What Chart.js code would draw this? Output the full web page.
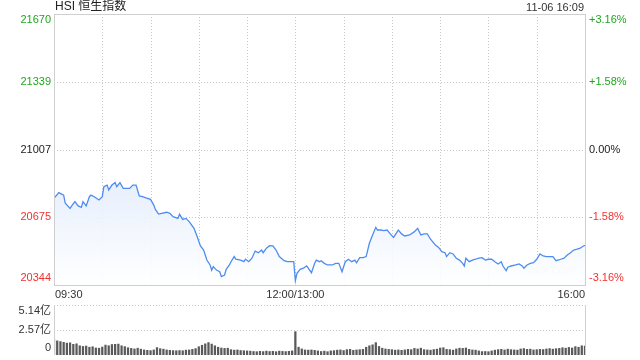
<!DOCTYPE html>
<html>
<head>
<meta charset="utf-8">
<script src="https://cdn.jsdelivr.net/npm/chart.js@4/dist/chart.umd.min.js"></script>
<style>
html,body{margin:0;padding:0;background:#fff;width:640px;height:360px;overflow:hidden;}
#main{position:absolute;left:0;top:0;}
#vol{position:absolute;left:0;top:300px;}
</style>
</head>
<body>
<canvas id="main" width="640" height="300"></canvas>
<canvas id="vol" width="640" height="60"></canvas>
<script>
// ---------- data ----------
const titleText = 'HSI 恒生指数';
const dateText = '11-06 16:09';
const prevClose = 21007;
// minute index from 09:30 (lunch break removed, 0..330)
const minutes = [0,3,6,7,10,11,13,15,17,18,20,22,23,25,28,30,31,33,34,36,38,39,41,43,45,47,49,51,53,55,58,60,62,63,65,67,70,72,74,77,78,80,82,84,87,89,91,93,95,97,98,99,101,103,104,106,107,109,110,112,113,116,118,119,121,123,125,127,129,130,132,134,136,138,140,143,145,147,149,150,151,153,155,157,158,160,162,163,165,166,168,170,173,175,177,179,181,183,185,187,188,190,192,194,196,198,200,201,203,205,207,209,211,214,216,218,221,224,226,228,230,232,234,237,239,241,243,244,246,248,250,252,254,255,256,258,260,262,264,266,268,270,272,274,276,278,279,281,282,284,287,289,291,292,294,296,298,300,302,304,306,308,310,312,315,317,319,321,323,325,327,329,330];
const prices = [20768,20796,20784,20744,20719,20731,20752,20731,20724,20752,20731,20776,20784,20776,20760,20776,20825,20833,20809,20833,20845,20825,20845,20817,20817,20817,20833,20833,20780,20776,20768,20763,20735,20714,20691,20695,20700,20695,20678,20670,20690,20665,20670,20654,20621,20580,20535,20515,20466,20442,20417,20434,20417,20409,20385,20393,20421,20442,20458,20483,20470,20466,20458,20470,20458,20475,20510,20502,20515,20502,20524,20536,20535,20515,20483,20463,20458,20458,20458,20365,20401,20421,20426,20437,20426,20404,20450,20466,20458,20463,20450,20442,20442,20450,20450,20409,20458,20470,20458,20466,20453,20478,20478,20483,20548,20589,20626,20613,20613,20610,20613,20594,20577,20613,20594,20584,20589,20605,20621,20589,20594,20594,20568,20540,20528,20507,20502,20483,20502,20496,20475,20466,20450,20437,20475,20458,20466,20470,20475,20478,20466,20470,20470,20458,20447,20458,20437,20414,20431,20437,20442,20447,20437,20426,20442,20450,20453,20470,20496,20486,20483,20483,20483,20463,20470,20475,20491,20502,20515,20519,20524,20535,20538];
// volume (亿), one bar every 2 minutes
const volumes = [1.62,1.45,1.38,1.30,1.22,1.25,1.10,1.15,0.95,0.88,0.92,0.80,0.85,0.72,0.70,0.82,1.02,0.95,1.08,1.10,1.12,0.95,0.86,0.75,0.68,0.62,0.70,0.60,0.52,0.48,0.45,0.52,0.76,0.65,0.60,0.52,0.48,0.45,0.44,0.46,0.44,0.50,0.52,0.58,0.66,0.85,1.00,1.15,1.28,1.12,0.95,0.80,0.72,0.68,0.70,0.55,0.50,0.52,0.46,0.44,0.42,0.40,0.36,0.34,0.38,0.35,0.40,0.36,0.38,0.34,0.40,0.37,0.35,0.38,0.42,2.40,0.80,0.62,0.52,0.50,0.52,0.48,0.42,0.36,0.40,0.34,0.42,0.45,0.50,0.52,0.46,0.55,0.58,0.48,0.52,0.55,0.58,0.80,0.95,1.05,1.27,0.88,0.70,0.62,0.58,0.55,0.50,0.52,0.48,0.52,0.58,0.55,0.68,0.62,0.70,0.55,0.52,0.50,0.56,0.60,0.72,0.75,0.58,0.55,0.50,0.62,0.70,0.68,0.72,0.58,0.52,0.50,0.42,0.35,0.36,0.34,0.42,0.50,0.55,0.58,0.52,0.60,0.55,0.52,0.50,0.62,0.66,0.58,0.60,0.52,0.55,0.58,0.56,0.62,0.66,0.60,0.65,0.68,0.75,0.70,0.78,0.72,0.86,0.80,0.95,0.92];
const volStep = 2;
const yTickValues = [21670,21339,21007,20675,20344];
const yLeftLabels = ['21670','21339','21007','20675','20344'];
const yRightLabels = ['+3.16%','+1.58%','0.00%','-1.58%','-3.16%'];
const xGridMinutes = [30,60,90,120,150,180,210,240,270,300];
const xLabelMinutes = [0,150,330];
const xLabels = ['09:30','12:00/13:00','16:00'];
const volTickValues = [5.14,2.57,0];
const volLabels = ['5.14亿','2.57亿','0'];

if (minutes.length !== prices.length) console.error('length mismatch', minutes.length, prices.length);

const GREEN = '#1ea81e', RED = '#f23030', DARK = '#222', GRID = '#c8c8c8', BORDER = '#cfcfcf';
const FONT = '"Liberation Sans", Arial, "Noto Sans CJK SC", sans-serif';
function colorFor(v){ return v > prevClose ? GREEN : (v < prevClose ? RED : DARK); }

function dotted(ctx, x1, y1, x2, y2){
  ctx.save(); ctx.strokeStyle = GRID; ctx.lineWidth = 1; ctx.setLineDash([1,2]);
  ctx.beginPath(); ctx.moveTo(x1, y1); ctx.lineTo(x2, y2); ctx.stroke(); ctx.restore();
}

const mainPlugin = {
  id: 'mainDeco',
  beforeDatasetsDraw(chart){
    const {ctx, chartArea:a, scales:{x, y}} = chart;
    yTickValues.forEach(v => { const py = Math.round(y.getPixelForValue(v)) + 0.5; if (py > a.top + 1 && py < a.bottom - 1) dotted(ctx, a.left, py, a.right, py); });
    xGridMinutes.forEach(m => { const px = Math.round(x.getPixelForValue(m)) + 0.5; dotted(ctx, px, a.top, px, a.bottom); });
    ctx.save();
    ctx.font = '13px ' + FONT; ctx.fillStyle = '#dcdcdc'; ctx.textAlign = 'right'; ctx.textBaseline = 'middle';
    ctx.fillText('sina.com', a.right - 9, a.bottom - 15);
    ctx.restore();
  },
  afterDatasetsDraw(chart){
    const {ctx, chartArea:a, scales:{x, y}} = chart;
    ctx.save();
    ctx.strokeStyle = BORDER; ctx.lineWidth = 1;
    ctx.strokeRect(Math.round(a.left) + 0.5, Math.round(a.top) + 0.5, Math.round(a.right - a.left), Math.round(a.bottom - a.top));
    ctx.font = '11px ' + FONT; ctx.textBaseline = 'middle';
    yTickValues.forEach((v, k) => {
      let py = y.getPixelForValue(v);
      if (k === 0) py += 6; else if (k === yTickValues.length - 1) py -= 7;
      ctx.fillStyle = colorFor(v);
      ctx.textAlign = 'right'; ctx.fillText(yLeftLabels[k], a.left - 3, py);
      ctx.textAlign = 'left'; ctx.fillText(yRightLabels[k], a.right + 4, py);
    });
    ctx.fillStyle = '#333';
    xLabelMinutes.forEach((m, k) => {
      const px = x.getPixelForValue(m);
      ctx.textAlign = k === 0 ? 'left' : (k === xLabelMinutes.length - 1 ? 'right' : 'center');
      ctx.fillText(xLabels[k], k === 0 ? px + 1 : px, a.bottom + 10);
    });
    ctx.font = '12px ' + FONT; ctx.fillStyle = '#222'; ctx.textAlign = 'left';
    ctx.fillText(titleText, a.left + 1, 7);
    ctx.font = '11px ' + FONT; ctx.fillStyle = '#333'; ctx.textAlign = 'right';
    ctx.fillText(dateText, a.right - 1, 8);
    ctx.restore();
  }
};

new Chart(document.getElementById('main'), {
  type: 'line',
  data: { datasets: [{
    data: minutes.map((m, k) => ({x: m, y: prices[k]})),
    borderColor: '#4e8def', borderWidth: 1.3, pointRadius: 0, tension: 0,
    fill: 'start',
    backgroundColor(context){
      const a = context.chart.chartArea; if (!a) return 'rgba(230,238,252,0.6)';
      const g = context.chart.ctx.createLinearGradient(0, a.top + 160, 0, a.bottom);
      g.addColorStop(0, 'rgba(226,236,252,0.9)'); g.addColorStop(1, 'rgba(255,255,255,0.9)');
      return g;
    }
  }]},
  options: {
    responsive: false, animation: false, devicePixelRatio: 1,
    layout: { padding: { left: 54, right: 55, top: 14, bottom: 15 } },
    plugins: { legend: { display: false }, tooltip: { enabled: false } },
    scales: {
      x: { type: 'linear', min: 0, max: 330, display: false },
      y: { type: 'linear', min: 20344, max: 21670, display: false }
    }
  },
  plugins: [mainPlugin]
});

const volPlugin = {
  id: 'volDeco',
  beforeDatasetsDraw(chart){
    const {ctx, chartArea:a, scales:{y}} = chart;
    volTickValues.forEach(v => { const py = Math.round(y.getPixelForValue(v)) + 0.5; if (py < a.bottom - 1) dotted(ctx, a.left, py, a.right, py); });
  },
  afterDatasetsDraw(chart){
    const {ctx, chartArea:a, scales:{y}} = chart;
    ctx.save();
    ctx.strokeStyle = BORDER; ctx.lineWidth = 1;
    ctx.beginPath();
    ctx.moveTo(Math.round(a.left) + 0.5, a.top); ctx.lineTo(Math.round(a.left) + 0.5, a.bottom);
    ctx.moveTo(Math.round(a.right) + 0.5, a.top); ctx.lineTo(Math.round(a.right) + 0.5, a.bottom);
    ctx.stroke();
    ctx.font = '11px ' + FONT; ctx.textBaseline = 'middle'; ctx.fillStyle = '#333'; ctx.textAlign = 'right';
    volTickValues.forEach((v, k) => {
      let py = y.getPixelForValue(v);
      if (k === 0) py += 6; else if (k === volTickValues.length - 1) py -= 7;
      ctx.fillText(volLabels[k], a.left - 3, py);
    });
    ctx.restore();
  }
};

new Chart(document.getElementById('vol'), {
  type: 'bar',
  data: { datasets: [{
    data: volumes.map((v, k) => ({x: k * volStep, y: v})),
    backgroundColor: '#5a5a5a', barThickness: 1.6, borderWidth: 0
  }]},
  options: {
    responsive: false, animation: false, devicePixelRatio: 1,
    layout: { padding: { left: 54, right: 55, top: 5, bottom: 5 } },
    plugins: { legend: { display: false }, tooltip: { enabled: false } },
    scales: {
      x: { type: 'linear', min: 0, max: 330, display: false, offset: false },
      y: { type: 'linear', min: 0, max: 5.14, display: false }
    }
  },
  plugins: [volPlugin]
});
</script>
</body>
</html>
